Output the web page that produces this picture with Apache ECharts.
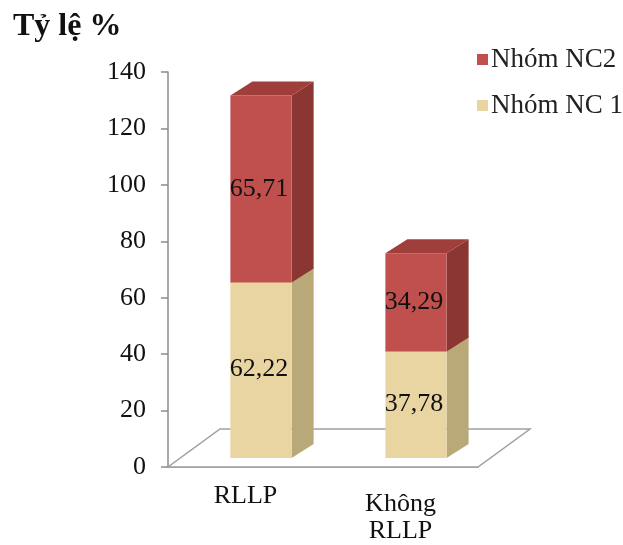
<!DOCTYPE html>
<html>
<head>
<meta charset="utf-8">
<script src="https://cdn.jsdelivr.net/npm/echarts@6/dist/echarts.min.js"></script>
<style>
html,body{margin:0;padding:0;background:#fff;}
#main{width:623px;height:545px;}
</style>
</head>
<body>
<div id="main"></div>
<script>
const categories = ['RLLP', 'Không RLLP'];
const seriesNames = ['Nhóm NC 1', 'Nhóm NC2'];
const nc1Values = [62.22, 37.78];
const nc2Values = [65.71, 34.29];
const valueLabels1 = ['62,22', '37,78'];
const valueLabels2 = ['65,71', '34,29'];
const yMin = 0, yMax = 140, yInterval = 20;

const FONT = '"Liberation Serif", "Times New Roman", serif';
const OX = 15.5, OY = -9;   // front-face offset of bars inside the 3D floor
const DX = 22, DY = -14;    // bar depth
const FDX = 52, FDY = -38;  // floor depth

const colors = {
  nc1: {front: '#e9d5a2', side: '#b9a878', top: '#d8c48f'},
  nc2: {front: '#c0504d', side: '#8b3633', top: '#9f3e3b'}
};

function barRenderer(col, withTop, labels) {
  return function (params, api) {
    const ci = api.value(0);
    const base = api.value(1);
    const v = api.value(2);
    const p0 = api.coord([ci, base]);
    const p1 = api.coord([ci, base + v]);
    const bw = api.size([1, 0])[0] * 0.395;
    const L = p0[0] - bw / 2 + OX, R = L + bw;
    const B = p0[1] + OY, T = p1[1] + OY - 1.5;
    const children = [
      {type: 'polygon', shape: {points: [[R, T], [R + DX, T + DY], [R + DX, B + DY], [R, B]]},
       style: {fill: col.side}},
      {type: 'rect', shape: {x: L, y: T, width: bw, height: B - T}, style: {fill: col.front}}
    ];
    if (withTop) {
      children.push({type: 'polygon', shape: {points: [[L, T], [R, T], [R + DX, T + DY], [L + DX, T + DY]]},
        style: {fill: col.top}});
    }
    children.push({type: 'text', style: {text: labels[params.dataIndex], x: (L + R) / 2 - 2, y: (T + B) / 2,
      align: 'center', verticalAlign: 'middle', font: '26px ' + FONT, fill: '#111'}});
    return {type: 'group', children: children};
  };
}

const chart = echarts.init(document.getElementById('main'));
chart.setOption({
  animation: false,
  backgroundColor: '#fff',
  title: {text: 'Tỷ lệ %', left: 8, top: 6,
    textStyle: {fontFamily: FONT, fontSize: 32, fontWeight: 'bold', color: '#111'}},
  legend: {
    data: [
      {name: seriesNames[1], itemStyle: {color: colors.nc2.front}},
      {name: seriesNames[0], itemStyle: {color: colors.nc1.front}}
    ],
    orient: 'vertical', left: 472, top: 41, itemGap: 19,
    icon: 'rect', itemWidth: 11, itemHeight: 11,
    textStyle: {fontFamily: FONT, fontSize: 27, color: '#222', padding: [0, 0, 0, -2]}
  },
  grid: {left: 168, right: 145, top: 72, bottom: 78},
  xAxis: {
    type: 'category', data: categories,
    axisLine: {lineStyle: {color: '#8c8c8c', width: 1.5}},
    axisTick: {length: 7, lineStyle: {color: '#8c8c8c', width: 1.5}},
    axisLabel: {
      margin: 16,
      formatter: function (v) {
        const parts = v.split(' ');
        if (parts.length > 1) return '{s| }\n{n|' + parts[0] + '}\n{n|' + parts.slice(1).join(' ') + '}';
        return '{n|' + v + '}';
      },
      rich: {
        s: {fontSize: 6, lineHeight: 8},
        n: {fontFamily: FONT, fontSize: 26, lineHeight: 27, color: '#111'}
      }
    }
  },
  yAxis: {
    type: 'value', min: yMin, max: yMax, interval: yInterval,
    axisLine: {show: true, lineStyle: {color: '#8c8c8c', width: 1.5}},
    axisTick: {show: true, length: 7, lineStyle: {color: '#8c8c8c', width: 1.5}},
    splitLine: {show: false},
    axisLabel: {margin: 22, fontFamily: FONT, fontSize: 26, color: '#111'}
  },
  series: [
    {
      type: 'custom', name: 'floor', silent: true, z: 1, legendHoverLink: false,
      data: [[0]],
      renderItem: function (params, api) {
        const cs = params.coordSys;
        const x0 = cs.x, x1 = cs.x + cs.width, y0 = cs.y + cs.height;
        return {type: 'polygon', shape: {points: [[x0, y0], [x1, y0], [x1 + FDX, y0 + FDY], [x0 + FDX, y0 + FDY]]},
          style: {fill: '#fff', stroke: '#a0a0a0', lineWidth: 1.5}};
      }
    },
    {
      type: 'custom', name: seriesNames[0], z: 2,
      itemStyle: {color: colors.nc1.front},
      data: categories.map((c, i) => [i, 0, nc1Values[i]]),
      encode: {x: 0, y: 2},
      renderItem: barRenderer(colors.nc1, false, valueLabels1)
    },
    {
      type: 'custom', name: seriesNames[1], z: 3,
      itemStyle: {color: colors.nc2.front},
      data: categories.map((c, i) => [i, nc1Values[i], nc2Values[i]]),
      encode: {x: 0, y: 2},
      renderItem: barRenderer(colors.nc2, true, valueLabels2)
    }
  ]
});
</script>
</body>
</html>
